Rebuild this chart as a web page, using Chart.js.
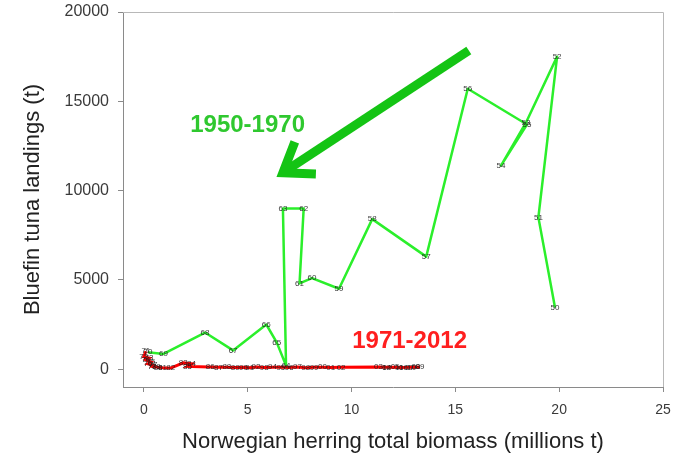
<!DOCTYPE html>
<html>
<head>
<meta charset="utf-8">
<script src="https://cdn.jsdelivr.net/npm/chart.js@4/dist/chart.umd.min.js"></script>
<style>
  html, body { margin: 0; padding: 0; background: #ffffff; }
  #wrap { width: 681px; height: 465px; }
</style>
</head>
<body>
<div id="wrap"><canvas id="c" width="681" height="465"></canvas></div>
<script>
// Period 1: 1950-1970
const earlyYears    = [1950, 1951, 1952, 1953, 1954, 1955, 1956, 1957, 1958, 1959, 1960,
                       1961, 1962, 1963, 1964, 1965, 1966, 1967, 1968, 1969, 1970];
const earlyBiomass  = [19.8, 19.0, 19.9, 18.4, 17.2, 18.45, 15.6, 13.6, 11.0, 9.4, 8.1,
                       7.5, 7.7, 6.7, 6.85, 6.4, 5.9, 4.3, 2.95, 0.95, 0.2];
const earlyLandings = [3450, 8500, 17500, 13800, 11400, 13700, 15700, 6300, 8400, 4500, 5100,
                       4800, 9000, 9000, 200, 1500, 2500, 1050, 2050, 850, 950];

// Period 2: 1971-2012
const lateYears    = [1971, 1972, 1973, 1974, 1975, 1976, 1977, 1978, 1979, 1980,
                      1981, 1982, 1983, 1984, 1985, 1986, 1987, 1988, 1989, 1990,
                      1991, 1992, 1993, 1994, 1995, 1996, 1997, 1998, 1999, 2000,
                      2001, 2002, 2003, 2004, 2005, 2006, 2007, 2008, 2009, 2010,
                      2011, 2012];
const lateBiomass  = [0.1, 0.0, 0.25, 0.1, 0.35, 0.2, 0.45, 0.4, 0.6, 0.7,
                      0.9, 1.3, 1.9, 2.3, 2.1, 3.2, 3.6, 4.0, 4.4, 4.8,
                      5.1, 5.4, 5.8, 6.2, 6.6, 7.0, 7.4, 7.8, 8.2, 8.6,
                      9.0, 9.5, 11.3, 11.7, 12.1, 12.5, 12.8, 13.1, 13.3, 12.9,
                      12.3, 11.7];
const lateLandings = [1000, 700, 620, 520, 400, 300, 220, 150, 120, 100,
                      80, 60, 350, 300, 150, 120, 100, 110, 90, 100,
                      80, 120, 90, 110, 100, 90, 120, 80, 100, 110,
                      90, 100, 120, 100, 110, 90, 100, 120, 110, 100,
                      90, 100];

const xTicks = [0, 5, 10, 15, 20, 25];
const yTicks = [0, 5000, 10000, 15000, 20000];

// Annotation anchors, in data units
const periodLabels = [
  { text: '1950-1970', x: 5.0, y: 13650, color: '#2fc82f' },
  { text: '1971-2012', x: 12.8, y: 1550, color: '#ff1f1f' }
];
const arrowTail = { x: 15.65, y: 17850 };
const arrowTip  = { x: 6.7,  y: 11000 };

const toPoints = (xs, ys) => xs.map((v, i) => ({ x: v, y: ys[i] }));

const annotate = {
  id: 'annotate',
  beforeDatasetsDraw(chart) {
    const { ctx, chartArea: a } = chart;
    // light frame on top and right
    ctx.save();
    ctx.strokeStyle = '#b8b8b8';
    ctx.lineWidth = 1;
    ctx.beginPath();
    ctx.moveTo(a.left, a.top + 0.5);
    ctx.lineTo(a.right + 0.5, a.top + 0.5);
    ctx.lineTo(a.right + 0.5, a.bottom);
    ctx.stroke();
    ctx.restore();
  },
  afterDatasetsDraw(chart) {
    const { ctx } = chart;
    const xs = chart.scales.x, ys = chart.scales.y;

    // year markers
    ctx.save();
    ctx.font = '8px "Liberation Sans", Arial, sans-serif';
    ctx.fillStyle = 'rgba(30,30,30,0.9)';
    ctx.textAlign = 'center';
    ctx.textBaseline = 'middle';
    chart.data.datasets.forEach(ds => {
      ds.data.forEach((p, i) => {
        const label = String(ds.years[i]).slice(2);
        ctx.fillText(label, xs.getPixelForValue(p.x), ys.getPixelForValue(p.y));
      });
    });
    ctx.restore();

    // arrow
    const tx = xs.getPixelForValue(arrowTail.x), ty = ys.getPixelForValue(arrowTail.y);
    const hx = xs.getPixelForValue(arrowTip.x),  hy = ys.getPixelForValue(arrowTip.y);
    const ang = Math.atan2(hy - ty, hx - tx);
    const headLen = 33, spread = 0.62;
    ctx.save();
    ctx.strokeStyle = '#14c414';
    ctx.lineWidth = 9;
    ctx.lineCap = 'butt';
    ctx.lineJoin = 'miter';
    ctx.beginPath();
    ctx.moveTo(tx, ty);
    ctx.lineTo(hx - 3 * Math.cos(ang), hy - 3 * Math.sin(ang));
    ctx.stroke();
    ctx.beginPath();
    ctx.moveTo(hx - headLen * Math.cos(ang - spread), hy - headLen * Math.sin(ang - spread));
    ctx.lineTo(hx, hy);
    ctx.lineTo(hx - headLen * Math.cos(ang + spread), hy - headLen * Math.sin(ang + spread));
    ctx.stroke();
    ctx.restore();

    // period labels
    ctx.save();
    ctx.font = 'bold 24px "Liberation Sans", Arial, sans-serif';
    ctx.textAlign = 'center';
    ctx.textBaseline = 'middle';
    periodLabels.forEach(l => {
      ctx.fillStyle = l.color;
      ctx.fillText(l.text, xs.getPixelForValue(l.x), ys.getPixelForValue(l.y));
    });
    ctx.restore();
  }
};

new Chart(document.getElementById('c'), {
  type: 'scatter',
  data: {
    datasets: [
      {
        data: toPoints(lateBiomass, lateLandings),
        years: lateYears,
        showLine: true,
        borderColor: '#ff0000',
        borderWidth: 3,
        pointRadius: 0,
        tension: 0
      },
      {
        data: toPoints(earlyBiomass, earlyLandings),
        years: earlyYears,
        showLine: true,
        borderColor: '#2bef2b',
        borderWidth: 2.5,
        borderJoinStyle: 'round',
        pointRadius: 0,
        tension: 0
      }
    ]
  },
  options: {
    responsive: false,
    animation: false,
    layout: { padding: { top: 12, right: 18, left: 0, bottom: 0 } },
    plugins: { legend: { display: false }, tooltip: { enabled: false } },
    scales: {
      x: {
        type: 'linear',
        min: -1,
        max: 25,
        afterBuildTicks: s => { s.ticks = xTicks.map(v => ({ value: v })); },
        afterFit: s => { s.height = 78; s.paddingLeft = 0; s.paddingRight = 0; },
        grid: { drawOnChartArea: false, drawTicks: true, tickLength: 5, tickColor: '#8a8a8a' },
        border: { display: true, color: '#8a8a8a', width: 1 },
        ticks: {
          color: '#3a3a3a',
          padding: 10,
          maxRotation: 0,
          callback: v => String(v),
          font: { family: '"Liberation Sans", Arial, sans-serif', size: 14 }
        },
        title: {
          display: true,
          text: 'Norwegian herring total biomass (millions t)',
          color: '#222222',
          padding: { top: 0, bottom: 10 },
          font: { family: '"Liberation Sans", Arial, sans-serif', size: 22 }
        }
      },
      y: {
        type: 'linear',
        min: -1000,
        max: 20000,
        afterBuildTicks: s => { s.ticks = yTicks.map(v => ({ value: v })); },
        afterFit: s => { s.width = 123; s.paddingTop = 0; s.paddingBottom = 0; },
        grid: { drawOnChartArea: false, drawTicks: true, tickLength: 5, tickColor: '#8a8a8a' },
        border: { display: true, color: '#8a8a8a', width: 1 },
        ticks: {
          color: '#3a3a3a',
          padding: 9,
          callback: v => String(v),
          font: { family: '"Liberation Sans", Arial, sans-serif', size: 16 }
        },
        title: {
          display: true,
          text: 'Bluefin tuna landings (t)',
          color: '#222222',
          padding: { top: 20, bottom: 0 },
          font: { family: '"Liberation Sans", Arial, sans-serif', size: 22 }
        }
      }
    }
  },
  plugins: [annotate]
});
</script>
</body>
</html>
